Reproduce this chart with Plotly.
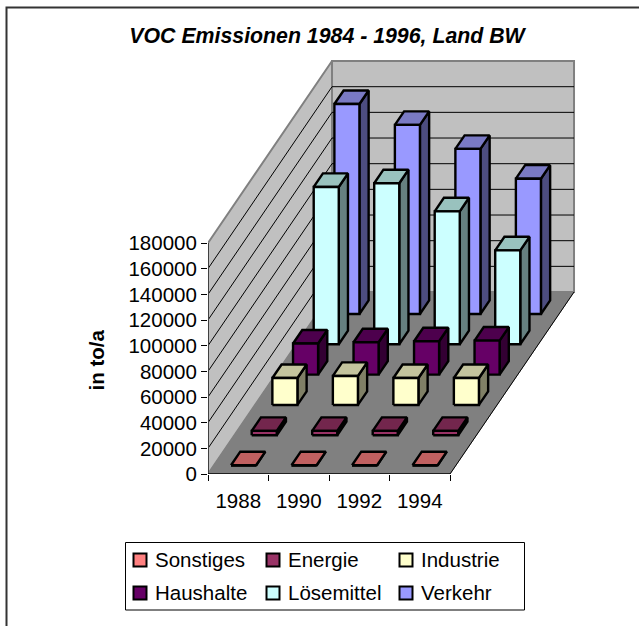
import plotly.graph_objects as go

# ---- data ----
years = ["1988", "1990", "1992", "1994"]
series_names = ["Sonstiges", "Energie", "Industrie", "Haushalte", "Lösemittel", "Verkehr"]
sonstiges = [300, 300, 300, 300]
energie = [3400, 3400, 3400, 3400]
industrie = [21000, 22600, 21000, 21000]
haushalte = [24200, 25200, 26000, 26500]
loesemittel = [122600, 125500, 103600, 73200]
verkehr = [163600, 147300, 128600, 105400]
values = [sonstiges, energie, industrie, haushalte, loesemittel, verkehr]
y_ticks = list(range(0, 180001, 20000))

# ---- styles: (legend/front, top, side) ----
colors = [
    ("#FF8080", "#C06060", "#804040"),
    ("#993366", "#73264D", "#4D1A33"),
    ("#FFFFCC", "#C4C49E", "#808066"),
    ("#660066", "#4D004D", "#330033"),
    ("#CCFFFF", "#99C2BE", "#668080"),
    ("#9999FF", "#7A7AC4", "#4D4D80"),
]
WALL, FLOOR, EDGE = "#C0C0C0", "#808080", "#808080"

# ---- oblique projection, expressed in axis units ----
PX_X, PX_Y = 60.5, 231 / 180000      # pixels per category / per unit
DX = 20.67 / PX_X                    # category units per series step
DY = 30.33 / PX_Y                    # value units per series step
N = len(series_names)
M = len(years)
TOP = y_ticks[-1]
BAR_X0, BAR_X1, BAR_D0, BAR_D1 = 0.286, 0.70, 0.277, 0.723


def proj(x, v, d):
    return x + d * DX, v + d * DY


def poly(points):
    xs, ys = zip(*[proj(*p) for p in points])
    return list(xs) + [xs[0]], list(ys) + [ys[0]]


fig = go.Figure()


def add_poly(xs, ys, fill, line, width, name=None):
    fig.add_trace(go.Scatter(x=xs, y=ys, mode="lines", fill="toself", fillcolor=fill,
                             line=dict(color=line, width=width), hoverinfo="skip",
                             showlegend=False, name=name))


# walls and floor
xs, ys = poly([(0, 0, 0), (0, TOP, 0), (0, TOP, N), (0, 0, N)])
add_poly(xs, ys, WALL, EDGE, 2)
xs, ys = poly([(0, 0, N), (0, TOP, N), (M, TOP, N), (M, 0, N)])
add_poly(xs, ys, WALL, EDGE, 2)
xs, ys = poly([(0, 0, 0), (M, 0, 0), (M, 0, N), (0, 0, N)])
add_poly(xs, ys, FLOOR, FLOOR, 1)

# gridlines
gx, gy = [], []
for v in y_ticks[1:-1]:
    a = proj(0, v, 0)
    b = proj(0, v, N)
    c = proj(M, v, N)
    gx += [a[0], b[0], c[0], None]
    gy += [a[1], b[1], c[1], None]
fig.add_trace(go.Scatter(x=gx, y=gy, mode="lines", line=dict(color="#000000", width=1),
                         hoverinfo="skip", showlegend=False))
# right edge of the floor
a, b = proj(M, 0, 0), proj(M, 0, N)
fig.add_trace(go.Scatter(x=[a[0], b[0]], y=[a[1], b[1]], mode="lines",
                         line=dict(color="#000000", width=1), hoverinfo="skip", showlegend=False))

# bars, back row first
for s in range(N - 1, -1, -1):
    fx, fy, tx, ty, rx, ry = [], [], [], [], [], []
    d0, d1 = s + BAR_D0, s + BAR_D1
    for c in range(M):
        x0, x1 = c + BAR_X0, c + BAR_X1
        v = values[s][c]
        px, py = poly([(x0, 0, d0), (x1, 0, d0), (x1, v, d0), (x0, v, d0)])
        fx += px + [None]; fy += py + [None]
        px, py = poly([(x0, v, d0), (x1, v, d0), (x1, v, d1), (x0, v, d1)])
        tx += px + [None]; ty += py + [None]
        px, py = poly([(x1, 0, d0), (x1, 0, d1), (x1, v, d1), (x1, v, d0)])
        rx += px + [None]; ry += py + [None]
    front, top, side = colors[s]
    add_poly(rx, ry, side, "#000000", 2.4, series_names[s])
    add_poly(tx, ty, top, "#000000", 2.4, series_names[s])
    add_poly(fx, fy, front, "#000000", 2.4, series_names[s])

# axis lines
fig.add_trace(go.Scatter(x=[0, 0], y=[0, TOP], mode="lines", line=dict(color="#404040", width=2),
                         hoverinfo="skip", showlegend=False, cliponaxis=False))
fig.add_trace(go.Scatter(x=[0, M], y=[0, 0], mode="lines", line=dict(color="#000000", width=1.5),
                         hoverinfo="skip", showlegend=False, cliponaxis=False))

FONT = "Liberation Sans, Arial, sans-serif"
SIZE = 20.5
W, H = 639, 626
L, B, T, R = 208, 152, 50, 49


def px_x(x):
    return (x - L) / (W - L - R)


def px_y(y):
    return (H - B - y) / (H - T - B)


shapes = [dict(type="rect", xref="paper", yref="paper", x0=px_x(6.5), x1=px_x(660),
               y0=px_y(640), y1=px_y(7.5), line=dict(color="#333333", width=2), layer="below"),
          dict(type="rect", xref="paper", yref="paper", x0=px_x(125.5), x1=px_x(524.5),
               y0=px_y(610), y1=px_y(542.5), line=dict(color="#000000", width=1))]
annotations = [dict(text="in to/a", xref="paper", yref="paper", x=px_x(95.5), y=px_y(360),
                    textangle=-90, showarrow=False, xanchor="center", yanchor="middle",
                    font=dict(family=FONT, size=SIZE, color="#000000", weight=700))]
col_x = [132.5, 265.5, 398.5]
row_y = [560, 593]
for i, name in enumerate(series_names):
    cx, ry = col_x[i % 3], row_y[i // 3]
    shapes.append(dict(type="rect", xref="paper", yref="paper", x0=px_x(cx + 1), x1=px_x(cx + 14),
                       y0=px_y(ry + 6.5), y1=px_y(ry - 6.5), fillcolor=colors[i][0],
                       line=dict(color="#000000", width=2)))
    annotations.append(dict(text=name, xref="paper", yref="paper", x=px_x(cx + 20), y=px_y(ry - 1),
                            showarrow=False, xanchor="left", yanchor="middle",
                            font=dict(family=FONT, size=SIZE, color="#000000")))

fig.update_layout(
    width=W, height=H, margin=dict(l=L, r=R, t=T, b=B, pad=0),
    paper_bgcolor="#FFFFFF", plot_bgcolor="rgba(0,0,0,0)", showlegend=False,
    font=dict(family=FONT, size=SIZE, color="#000000"),
    title=dict(text="VOC Emissionen 1984 - 1996, Land BW", x=327 / W, xanchor="center",
               y=1 - 36 / H, yanchor="middle",
               font=dict(family=FONT, size=21.3, color="#000000", weight=700, style="italic")),
    shapes=shapes, annotations=annotations,
    xaxis=dict(range=[0, (W - L - R) / PX_X], showgrid=False, zeroline=False, showline=False,
               tickmode="array", tickvals=[i + 0.5 for i in range(M)], ticktext=years, ticks="",
               ticklabelstandoff=12, tickfont=dict(size=SIZE),
               minor=dict(tickmode="array", tickvals=list(range(M + 1)), ticks="outside", ticklen=6,
                          tickwidth=1, tickcolor="#000000", showgrid=False)),
    yaxis=dict(range=[0, (H - T - B) / PX_Y], showgrid=False, zeroline=False, showline=False,
               tickmode="array", tickvals=y_ticks, ticks="outside", ticklen=6, tickwidth=1,
               tickcolor="#000000", tickfont=dict(size=SIZE), tickformat="d"),
)
fig.write_html("out.html", post_script="document.body.style.margin='0';document.body.style.overflow='hidden';",
               config=dict(displayModeBar=False))
